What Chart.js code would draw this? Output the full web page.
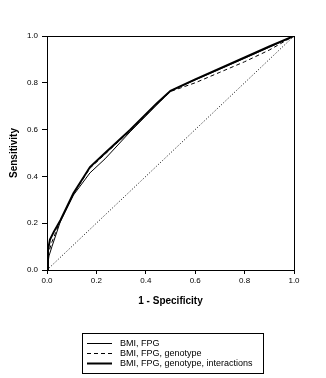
<!DOCTYPE html>
<html>
<script src="https://cdn.jsdelivr.net/npm/chart.js@4/dist/chart.umd.min.js"></script>
<body style="margin:0; background-color:#ffffff;">
<canvas id="rocChart" width="326" height="378"></canvas>

<script>
// ROC curves (x = 1 - specificity, y = sensitivity)
var bmiX = [0, 0.008, 0.02, 0.055, 0.107, 0.174, 0.235, 0.336, 0.444, 0.5, 0.6, 0.7, 0.8, 0.9, 1];
var bmiY = [0, 0.06, 0.1, 0.21, 0.32, 0.415, 0.475, 0.59, 0.705, 0.765, 0.812, 0.858, 0.905, 0.952, 1];

var genoX = [0, 0.005, 0.02, 0.05, 0.107, 0.174, 0.235, 0.336, 0.444, 0.5, 0.6, 0.7, 0.8, 0.9, 1];
var genoY = [0, 0.07, 0.12, 0.2, 0.325, 0.435, 0.495, 0.595, 0.708, 0.763, 0.8, 0.845, 0.89, 0.94, 1];

var interX = [0, 0.004, 0.012, 0.028, 0.055, 0.107, 0.174, 0.235, 0.336, 0.444, 0.5, 0.6, 0.7, 0.8, 0.9, 1];
var interY = [0, 0.085, 0.13, 0.164, 0.214, 0.328, 0.44, 0.5, 0.598, 0.712, 0.766, 0.815, 0.862, 0.908, 0.955, 1];

var chanceX = [0, 1];
var chanceY = [0, 1];

var tickValues = [0, 0.2, 0.4, 0.6, 0.8, 1.0];

function pts(xs, ys) {
  return xs.map((x, i) => ({x: x, y: ys[i]}));
}

Chart.defaults.font.family = "'Liberation Sans', Arial, sans-serif";
Chart.defaults.color = '#000';

// box round the plot area
var framePlugin = {
  id: 'frame',
  afterDraw(chart) {
    var a = chart.chartArea, ctx = chart.ctx;
    ctx.save();
    ctx.strokeStyle = '#000';
    ctx.lineWidth = 1;
    ctx.setLineDash([]);
    ctx.strokeRect(Math.round(a.left) + 0.5, Math.round(a.top) + 0.5,
                   Math.round(a.right - a.left), Math.round(a.bottom - a.top));
    ctx.restore();
  }
};

// boxed legend under the chart, three rows
var boxLegend = {
  id: 'boxLegend',
  afterDraw(chart) {
    var ctx = chart.ctx;
    ctx.save();
    ctx.strokeStyle = '#000';
    ctx.lineWidth = 1;
    ctx.setLineDash([]);
    ctx.strokeRect(82.5, 333.5, 181, 40);
    ctx.font = "9px 'Liberation Sans', Arial, sans-serif";
    ctx.textBaseline = 'middle';
    ctx.fillStyle = '#000';
    var row = 0;
    chart.data.datasets.forEach(ds => {
      if (!ds.label) return;
      var y = 343.5 + row * 10;
      ctx.beginPath();
      ctx.lineWidth = ds.borderWidth;
      ctx.setLineDash(ds.borderDash || []);
      ctx.moveTo(87, y);
      ctx.lineTo(112, y);
      ctx.stroke();
      ctx.setLineDash([]);
      ctx.fillText(ds.label, 120, y);
      row++;
    });
    ctx.restore();
  }
};

new Chart('rocChart', {
  type: 'scatter',
  data: {
    datasets: [{
      label: 'BMI, FPG',
      data: pts(bmiX, bmiY),
      borderColor: '#000',
      borderWidth: 1
    }, {
      label: 'BMI, FPG, genotype',
      data: pts(genoX, genoY),
      borderColor: '#000',
      borderWidth: 1,
      borderDash: [4, 3]
    }, {
      label: 'BMI, FPG, genotype, interactions',
      data: pts(interX, interY),
      borderColor: '#000',
      borderWidth: 2
    }, {
      label: '',
      data: pts(chanceX, chanceY),
      borderColor: '#000',
      borderWidth: 1,
      borderDash: [1, 2]
    }]
  },
  options: {
    responsive: false,
    animation: false,
    showLine: true,
    elements: { point: { radius: 0 }, line: { tension: 0 } },
    layout: { padding: { left: 0, top: 36, right: 32, bottom: 68 } },
    plugins: { legend: { display: false }, tooltip: { enabled: false } },
    scales: {
      x: {
        type: 'linear', min: 0, max: 1,
        afterBuildTicks: s => { s.ticks = tickValues.map(v => ({value: v})); },
        afterFit: s => { s.height = 40; },
        ticks: { font: { size: 8 }, padding: 2, maxRotation: 0, callback: v => v.toFixed(1) },
        grid: { drawOnChartArea: false, drawTicks: true, tickLength: 4, color: '#000' },
        border: { display: true, color: '#000' },
        title: { display: true, text: '1 - Specificity', font: { size: 10, weight: 'bold' }, padding: { top: 0, bottom: 3 } }
      },
      y: {
        type: 'linear', min: 0, max: 1,
        afterBuildTicks: s => { s.ticks = tickValues.map(v => ({value: v})); },
        afterFit: s => { s.width = 47; },
        ticks: { font: { size: 8 }, padding: 4, callback: v => v.toFixed(1) },
        grid: { drawOnChartArea: false, drawTicks: true, tickLength: 5, color: '#000' },
        border: { display: true, color: '#000' },
        title: { display: true, text: 'Sensitivity', font: { size: 10, weight: 'bold' }, padding: { top: 8, bottom: 0 } }
      }
    }
  },
  plugins: [framePlugin, boxLegend]
});
</script>
</body>
</html>
